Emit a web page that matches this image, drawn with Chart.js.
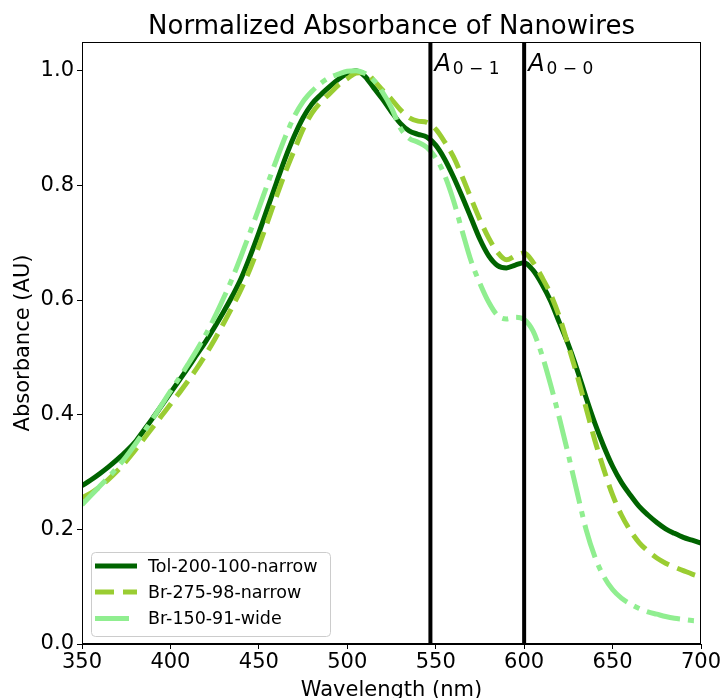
<!DOCTYPE html>
<html>
<head>
<meta charset="utf-8">
<script src="https://cdn.jsdelivr.net/npm/chart.js@4.4.0/dist/chart.umd.min.js"></script>
<style>
  html, body { margin: 0; padding: 0; background: #fff; }
</style>
</head>
<body>
<canvas id="myChart" width="724" height="698"></canvas>
<script>
// Golflengtes (nm), gedeeld door alle drie de metingen
const wavelengths = [
  350, 355, 360, 365, 370, 375, 380, 385, 390, 395,
  400, 405, 410, 415, 420, 425, 430, 435, 440, 445,
  450, 455, 460, 465, 470, 475, 480, 485, 490, 495,
  500, 505, 510, 515, 520, 525, 530, 535, 540, 545,
  550, 555, 560, 565, 570, 575, 580, 585, 590, 595,
  600, 605, 610, 615, 620, 625, 630, 635, 640, 645,
  650, 655, 660, 665, 670, 675, 680, 685, 690, 695, 700
];

const tolNarrow = [
  0.276, 0.286, 0.297, 0.309, 0.322, 0.336, 0.352, 0.373, 0.394, 0.416,
  0.438, 0.460, 0.482, 0.505, 0.528, 0.553, 0.579, 0.607, 0.638, 0.676,
  0.717, 0.761, 0.805, 0.848, 0.886, 0.918, 0.942, 0.958, 0.972, 0.985,
  0.995, 1.000, 0.990, 0.970, 0.950, 0.928, 0.908, 0.895, 0.889, 0.884,
  0.870, 0.846, 0.815, 0.780, 0.743, 0.706, 0.677, 0.660, 0.656, 0.661,
  0.665, 0.652, 0.628, 0.598, 0.560, 0.522, 0.478, 0.430, 0.385, 0.345,
  0.310, 0.282, 0.260, 0.240, 0.225, 0.212, 0.201, 0.193, 0.186, 0.181, 0.176
];

const br275Narrow = [
  0.255, 0.263, 0.274, 0.287, 0.302, 0.319, 0.338, 0.358, 0.378, 0.398,
  0.418, 0.438, 0.459, 0.481, 0.505, 0.531, 0.559, 0.588, 0.619, 0.654,
  0.694, 0.737, 0.781, 0.823, 0.861, 0.898, 0.926, 0.945, 0.960, 0.975,
  0.986, 0.996, 0.997, 0.983, 0.966, 0.950, 0.932, 0.918, 0.912, 0.910,
  0.898, 0.876, 0.850, 0.815, 0.777, 0.740, 0.708, 0.683, 0.670, 0.677,
  0.682, 0.666, 0.640, 0.610, 0.570, 0.520, 0.468, 0.412, 0.355, 0.305,
  0.260, 0.225, 0.198, 0.177, 0.162, 0.150, 0.141, 0.134, 0.128, 0.122, 0.117
];

const br150Wide = [
  0.243, 0.259, 0.275, 0.291, 0.308, 0.327, 0.348, 0.370, 0.393, 0.417,
  0.441, 0.464, 0.488, 0.513, 0.540, 0.570, 0.603, 0.638, 0.677, 0.718,
  0.760, 0.803, 0.845, 0.885, 0.920, 0.946, 0.964, 0.978, 0.988, 0.994,
  0.999, 1.000, 0.995, 0.983, 0.962, 0.935, 0.900, 0.882, 0.875, 0.866,
  0.848, 0.818, 0.774, 0.720, 0.668, 0.629, 0.596, 0.573, 0.567, 0.570,
  0.566, 0.546, 0.505, 0.452, 0.393, 0.330, 0.264, 0.200, 0.152, 0.118,
  0.095, 0.080, 0.070, 0.062, 0.056, 0.052, 0.048, 0.045, 0.043, 0.041, 0.039
];

const xTicks = [350, 400, 450, 500, 550, 600, 650, 700];
const yTicks = [0.0, 0.2, 0.4, 0.6, 0.8, 1.0];

// Piekposities (A0-1 en A0-0)
const peakLines = [547, 600];
const peakSubs = ["0 \u2212 1", "0 \u2212 0"];

const chartTitle = "Normalized Absorbance of Nanowires";
const FONT = "'DejaVu Sans', 'Noto Sans', sans-serif";

function toPoints(values) {
  return values.map((v, i) => ({ x: wavelengths[i], y: v }));
}

function vLine(nm) {
  return {
    label: "peak-" + nm,
    data: [{ x: nm, y: 0 }, { x: nm, y: 1.05 }],
    borderColor: "#000",
    borderWidth: 4,
    pointRadius: 0,
    order: 0,
  };
}

const curves = [
  { label: "Tol-200-100-narrow", data: toPoints(tolNarrow), borderColor: "#006400", borderDash: [], order: 3 },
  { label: "Br-275-98-narrow", data: toPoints(br275Narrow), borderColor: "#9acd32", borderDash: [19, 9], order: 2 },
  { label: "Br-150-91-wide", data: toPoints(br150Wide), borderColor: "#90ee90", borderDash: [34, 8, 6, 8], order: 1 },
].map(d => Object.assign(d, {
  borderWidth: 5,
  pointRadius: 0,
  cubicInterpolationMode: "monotone",
  isCurve: true,
}));

// Titel, kader, A-labels en legenda zelf tekenen
const extras = {
  id: "extras",
  afterDatasetsDraw(chart) {
    const { ctx, chartArea: a, scales } = chart;
    ctx.save();

    ctx.strokeStyle = "#000";
    ctx.lineWidth = 1;
    ctx.strokeRect(a.left + 0.5, a.top + 0.5, a.right - a.left - 1, a.bottom - a.top - 1);

    ctx.fillStyle = "#000";
    ctx.font = "26px " + FONT;
    ctx.textAlign = "center";
    ctx.textBaseline = "alphabetic";
    ctx.fillText(chartTitle, (a.left + a.right) / 2, 34);

    ctx.textAlign = "left";
    peakLines.forEach((nm, i) => {
      const x = scales.x.getPixelForValue(nm) + 4;
      const y = scales.y.getPixelForValue(1.0);
      ctx.font = "italic 24px " + FONT;
      ctx.fillText("A", x, y);
      const w = ctx.measureText("A").width;
      ctx.font = "17px " + FONT;
      ctx.fillText(peakSubs[i], x + w + 2, y + 3);
    });

    // legenda linksonder
    const bx = a.left + 9, by = a.bottom - 92, bw = 239, bh = 84;
    ctx.beginPath();
    ctx.roundRect(bx + 0.5, by + 0.5, bw, bh, 4);
    ctx.fillStyle = "rgba(255,255,255,0.8)";
    ctx.fill();
    ctx.strokeStyle = "#cccccc";
    ctx.lineWidth = 1;
    ctx.stroke();

    const rows = [a.bottom - 78, a.bottom - 52, a.bottom - 25.5];
    chart.data.datasets.filter(d => d.isCurve).forEach((d, i) => {
      ctx.beginPath();
      ctx.setLineDash(d.borderDash);
      ctx.strokeStyle = d.borderColor;
      ctx.lineWidth = d.borderWidth;
      ctx.moveTo(a.left + 13, rows[i]);
      ctx.lineTo(a.left + 55, rows[i]);
      ctx.stroke();
      ctx.setLineDash([]);
      ctx.fillStyle = "#000";
      ctx.font = "17.5px " + FONT;
      ctx.textBaseline = "middle";
      ctx.fillText(d.label, a.left + 66, rows[i] + 1);
    });

    ctx.restore();
  },
};

const ctx = document.getElementById("myChart").getContext("2d");
const myChart = new Chart(ctx, {
  type: "line",
  data: {
    datasets: [...curves, ...peakLines.map(vLine)],
  },
  options: {
    responsive: false,
    animation: false,
    layout: { padding: { top: 42, right: 23, left: 0, bottom: 0 } },
    plugins: {
      legend: { display: false },
      tooltip: { enabled: false },
    },
    scales: {
      x: {
        type: "linear",
        min: 350,
        max: 700,
        afterBuildTicks: (s) => { s.ticks = xTicks.map(v => ({ value: v })); },
        afterFit: (s) => { s.height = 54; },
        grid: { drawOnChartArea: false, drawTicks: true, tickLength: 5, tickColor: "#000" },
        border: { display: true, color: "#000", width: 1 },
        ticks: {
          color: "#000",
          font: { family: FONT, size: 21 },
          padding: 1,
          maxRotation: 0,
          autoSkip: false,
          callback: (v) => String(v),
        },
        title: {
          display: true,
          text: "Wavelength (nm)",
          color: "#000",
          font: { family: FONT, size: 21, lineHeight: 0.75 },
          padding: 0,
        },
      },
      y: {
        min: 0,
        max: 1.05,
        afterBuildTicks: (s) => { s.ticks = yTicks.map(v => ({ value: v })); },
        afterFit: (s) => { s.width = 82; },
        grid: { drawOnChartArea: false, drawTicks: true, tickLength: 5, tickColor: "#000" },
        border: { display: true, color: "#000", width: 1 },
        ticks: {
          color: "#000",
          font: { family: FONT, size: 21 },
          padding: 3,
          callback: (v) => v.toFixed(1),
        },
        title: {
          display: true,
          text: "Absorbance (AU)",
          color: "#000",
          font: { family: FONT, size: 21, lineHeight: 1.2 },
          padding: { top: 11, bottom: 0 },
        },
      },
    },
  },
  plugins: [extras],
});
</script>
</body>
</html>
